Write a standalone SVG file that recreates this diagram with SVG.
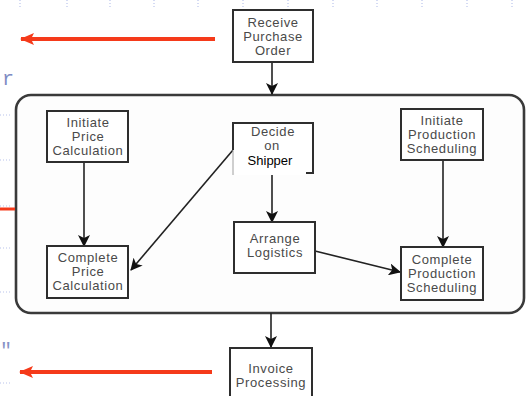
<svg xmlns="http://www.w3.org/2000/svg" width="526" height="396" viewBox="0 0 526 396">
  <style>
    .box { fill: #ffffff; stroke: #2e2e2e; stroke-width: 2; }
    .lbl { font-family: "Liberation Sans", Arial, sans-serif; font-size: 13px; fill: #4a4a4a; text-anchor: middle; letter-spacing: 0.6px; }
    .blk { font-family: "Liberation Sans", Arial, sans-serif; font-size: 13px; fill: #000000; text-anchor: middle; }
    .flow { stroke: #222222; stroke-width: 1.6; fill: none; marker-end: url(#arrow); }
    .red { stroke: #f53a1a; stroke-width: 4; fill: none; marker-end: url(#redArrow); }
    .dots { stroke: #b9c3ec; stroke-width: 1.2; stroke-dasharray: 1 2; fill: none; }
  </style>
  <defs>
    <marker id="arrow" viewBox="0 0 12 12" refX="11" refY="6" markerWidth="12" markerHeight="12" markerUnits="userSpaceOnUse" orient="auto">
      <path d="M0,0 L12,6 L0,12 L3,6 z" fill="#111111"/>
    </marker>
    <marker id="redArrow" viewBox="0 0 14 12" refX="13" refY="6" markerWidth="14" markerHeight="12" markerUnits="userSpaceOnUse" orient="auto">
      <path d="M0,0 L14,6 L0,12 L3,6 z" fill="#f53a1a"/>
    </marker>
  </defs>

  <rect width="526" height="396" fill="#ffffff"/>

  <!-- faint grid residue along the edges -->
  <g id="grid">
    <path class="dots" d="M20,0 V8 M67,0 V8 M110,0 V8 M154,0 V8 M198,0 V8 M243,0 V8 M288,0 V8 M333,0 V8 M377,0 V8 M422,0 V8 M467,0 V8 M512,0 V8"/>
    <path class="dots" d="M0,115 H12 M0,160 H12 M0,206 H12 M0,248 H12 M0,292 H12 M0,383 H12"/>
    <text x="2" y="85" font-family="Liberation Mono, monospace" font-size="20" fill="#5566b0" opacity="0.75">r</text>
    <text x="0" y="357" font-family="Liberation Mono, monospace" font-size="20" fill="#5566b0" opacity="0.7">"</text>
  </g>

  <!-- outer process container -->
  <g id="container">
    <rect x="16" y="95" width="508" height="218" rx="15" ry="15" fill="#fdfdfd" stroke="#3a3a3a" stroke-width="2.6"/>
  </g>

  <!-- side flows -->
  <g id="side-flows">
    <line class="red" x1="215" y1="39" x2="21" y2="39"/>
    <line class="red" x1="212" y1="372" x2="20" y2="372"/>
    <line x1="0" y1="209" x2="15" y2="209" stroke="#f53a1a" stroke-width="3"/>
  </g>

  <!-- connectors -->
  <g id="connectors">
    <line class="flow" x1="272" y1="62" x2="272" y2="94"/>
    <line class="flow" x1="84" y1="162" x2="84" y2="246"/>
    <line class="flow" x1="233" y1="150" x2="131" y2="270" stroke-width="2"/>
    <line class="flow" x1="272" y1="175" x2="272" y2="222"/>
    <line class="flow" x1="443" y1="160" x2="443" y2="247" stroke-width="2.4"/>
    <line class="flow" x1="315" y1="251" x2="400" y2="272" stroke-width="2"/>
    <line class="flow" x1="271" y1="313" x2="271" y2="347"/>
  </g>

  <g id="receive-purchase-order">
    <rect class="box" x="233" y="10" width="80" height="52"/>
    <text class="lbl" x="273" y="27">Receive</text>
    <text class="lbl" x="273" y="41">Purchase</text>
    <text class="lbl" x="273" y="55">Order</text>
  </g>

  <g id="initiate-price-calculation">
    <rect class="box" x="47" y="111" width="81" height="51"/>
    <text class="lbl" x="88" y="127">Initiate</text>
    <text class="lbl" x="88" y="141">Price</text>
    <text class="lbl" x="88" y="155">Calculation</text>
  </g>

  <g id="complete-price-calculation">
    <rect class="box" x="47" y="246" width="81" height="52"/>
    <text class="lbl" x="88" y="262">Complete</text>
    <text class="lbl" x="88" y="276">Price</text>
    <text class="lbl" x="88" y="290">Calculation</text>
  </g>

  <g id="decide-on-shipper">
    <rect x="233" y="123" width="80" height="50" fill="#ffffff" stroke="none"/>
    <path d="M233,150 V123 H313 V173 H306" fill="none" stroke="#2e2e2e" stroke-width="2"/>
    <line x1="233" y1="150" x2="233" y2="175" stroke="#a0a0a0" stroke-width="1"/>
    <text class="lbl" x="273" y="136">Decide</text>
    <text class="lbl" x="272" y="150" font-size="12">on</text>
    <rect x="235" y="153" width="70" height="22" fill="#ffffff"/>
    <text class="blk" x="270" y="165">Shipper</text>
  </g>

  <g id="arrange-logistics">
    <rect class="box" x="234" y="222" width="81" height="51"/>
    <text class="lbl" x="275" y="243">Arrange</text>
    <text class="lbl" x="275" y="257">Logistics</text>
  </g>

  <g id="initiate-production-scheduling">
    <rect class="box" x="401" y="109" width="82" height="51" stroke-width="2.4"/>
    <text class="lbl" x="442" y="125">Initiate</text>
    <text class="lbl" x="442" y="139">Production</text>
    <text class="lbl" x="442" y="153">Scheduling</text>
  </g>

  <g id="complete-production-scheduling">
    <rect class="box" x="401" y="247" width="82" height="53" stroke-width="2.6"/>
    <text class="lbl" x="442" y="264">Complete</text>
    <text class="lbl" x="442" y="278">Production</text>
    <text class="lbl" x="442" y="292">Scheduling</text>
  </g>

  <g id="invoice-processing">
    <rect class="box" x="230" y="348" width="82" height="60" stroke-width="2.4"/>
    <text class="lbl" x="271" y="373">Invoice</text>
    <text class="lbl" x="271" y="387">Processing</text>
  </g>
</svg>
